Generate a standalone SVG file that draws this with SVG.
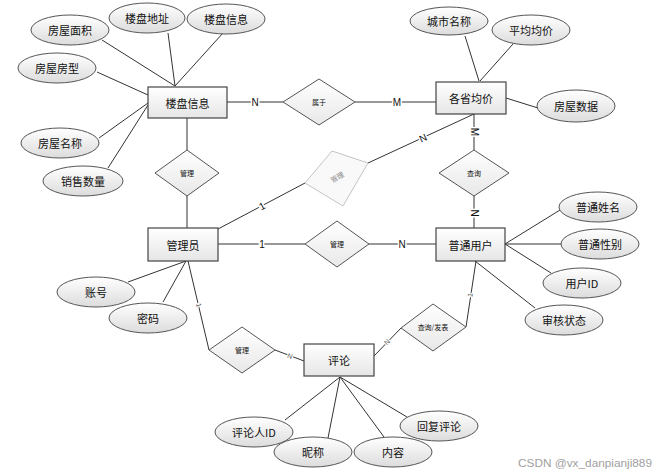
<svg xmlns="http://www.w3.org/2000/svg" width="663" height="476" viewBox="0 0 663 476">
<defs>
<linearGradient id="gR" x1="0" y1="0" x2="0" y2="1"><stop offset="0" stop-color="#ffffff"/><stop offset="1" stop-color="#e6e6e6"/></linearGradient>
<linearGradient id="gE" x1="0" y1="0" x2="0" y2="1"><stop offset="0" stop-color="#ffffff"/><stop offset="1" stop-color="#dcdcdc"/></linearGradient>
<linearGradient id="gD" x1="0" y1="0" x2="0" y2="1"><stop offset="0" stop-color="#ffffff"/><stop offset="1" stop-color="#e8e8e8"/></linearGradient>
</defs>
<style>
.ent{fill:url(#gR);stroke:#444;stroke-width:1.2}
.att{fill:url(#gE);stroke:#555;stroke-width:1}
.rel{fill:url(#gD);stroke:#555;stroke-width:1}
.fad{fill:#f9f9f9;stroke:#c4c4c4;stroke-width:1}
.t{font-family:"Noto Sans CJK SC","Liberation Sans",sans-serif;font-size:11px;fill:#111;text-anchor:middle;dominant-baseline:central}
.s{font-family:"Noto Sans CJK SC","Liberation Sans",sans-serif;font-size:7px;fill:#111;text-anchor:middle;dominant-baseline:central}
.c{font-family:"Liberation Sans",sans-serif;font-size:10px;fill:#111;text-anchor:middle;dominant-baseline:central;stroke:#fff;stroke-width:3;paint-order:stroke}
.cs{font-family:"Liberation Sans",sans-serif;font-size:7px;fill:#555;text-anchor:middle;dominant-baseline:central;stroke:#fff;stroke-width:2;paint-order:stroke}
.ln{stroke:#333;stroke-width:1;fill:none}
.wm{font-family:"Liberation Sans",sans-serif;font-size:11.5px;fill:#a0a0a0}
</style>
<rect width="663" height="476" fill="#fff"/>
<g id="connectors">
<line class="ln" x1="102" y1="40" x2="175" y2="86"/>
<line class="ln" x1="168" y1="33" x2="175" y2="86"/>
<line class="ln" x1="223" y1="33" x2="175" y2="86"/>
<line class="ln" x1="97" y1="72" x2="148" y2="95"/>
<line class="ln" x1="99" y1="138" x2="148" y2="103"/>
<line class="ln" x1="108" y1="168" x2="148" y2="105"/>
<line class="ln" x1="227" y1="102" x2="283" y2="102"/>
<line class="ln" x1="355" y1="102" x2="436" y2="102"/>
<line class="ln" x1="465" y1="36" x2="479" y2="81"/>
<line class="ln" x1="513" y1="44" x2="480" y2="81"/>
<line class="ln" x1="506" y1="98" x2="538" y2="108"/>
<line class="ln" x1="474" y1="114" x2="368" y2="163"/>
<line class="ln" x1="474" y1="114" x2="474" y2="150"/>
<line class="ln" x1="474" y1="196" x2="474" y2="228"/>
<line class="ln" x1="187" y1="118" x2="187" y2="150"/>
<line class="ln" x1="187" y1="196" x2="187" y2="228"/>
<line class="ln" x1="218" y1="229" x2="305" y2="183"/>
<line class="ln" x1="218" y1="244" x2="305" y2="244"/>
<line class="ln" x1="369" y1="244" x2="436" y2="244"/>
<line class="ln" x1="505" y1="244" x2="560" y2="210"/>
<line class="ln" x1="505" y1="244" x2="562" y2="244"/>
<line class="ln" x1="505" y1="244" x2="551" y2="273"/>
<line class="ln" x1="475" y1="261" x2="535" y2="308"/>
<line class="ln" x1="128" y1="282" x2="186" y2="261"/>
<line class="ln" x1="163" y1="302" x2="186" y2="261"/>
<line class="ln" x1="188" y1="261" x2="209" y2="350"/>
<line class="ln" x1="275" y1="350" x2="304" y2="361"/>
<line class="ln" x1="476" y1="261" x2="466" y2="327"/>
<line class="ln" x1="374" y1="356" x2="401" y2="328"/>
<line class="ln" x1="340" y1="377" x2="285" y2="420"/>
<line class="ln" x1="340" y1="377" x2="328" y2="438"/>
<line class="ln" x1="340" y1="377" x2="384" y2="437"/>
<line class="ln" x1="340" y1="377" x2="407" y2="417"/>
<text class="c" x="255" y="102">N</text>
<text class="c" x="397" y="102">M</text>
<text class="c" transform="translate(423,138) rotate(-25)">N</text>
<text class="c" transform="translate(474,132) rotate(90)">M</text>
<text class="c" transform="translate(474,213) rotate(90)">N</text>
<text class="c" transform="translate(262,206) rotate(-28)">1</text>
<text class="c" x="262" y="244">1</text>
<text class="c" x="402" y="244">N</text>
<text class="cs" transform="translate(199,305) rotate(77)">1</text>
<text class="cs" transform="translate(290,356) rotate(20)">N</text>
<text class="cs" transform="translate(387,342) rotate(-45)">N</text>
<text class="cs" transform="translate(470,295) rotate(-81)">1</text>
</g>
<g id="e_loupan"><rect class="ent" x="148" y="87" width="79" height="31"/><text class="t" x="187.5" y="102.5">楼盘信息</text></g>
<g id="e_gesheng"><rect class="ent" x="436" y="82" width="70" height="32"/><text class="t" x="471" y="98">各省均价</text></g>
<g id="e_admin"><rect class="ent" x="148" y="228" width="70" height="33"/><text class="t" x="183" y="244.5">管理员</text></g>
<g id="e_user"><rect class="ent" x="436" y="228" width="69" height="33"/><text class="t" x="470.5" y="244.5">普通用户</text></g>
<g id="e_comment"><rect class="ent" x="304" y="344" width="70" height="32"/><text class="t" x="339" y="360">评论</text></g>
<g id="a_dizhi"><ellipse class="att" cx="147" cy="18" rx="38" ry="15"/><text class="t" x="147" y="18">楼盘地址</text></g>
<g id="a_xinxi"><ellipse class="att" cx="226" cy="19" rx="39" ry="15"/><text class="t" x="226" y="19">楼盘信息</text></g>
<g id="a_mianji"><ellipse class="att" cx="70" cy="30" rx="39" ry="15"/><text class="t" x="70" y="30">房屋面积</text></g>
<g id="a_fangxing"><ellipse class="att" cx="57" cy="68" rx="39" ry="15"/><text class="t" x="57" y="68">房屋房型</text></g>
<g id="a_mingcheng"><ellipse class="att" cx="60" cy="143" rx="39" ry="15"/><text class="t" x="60" y="143">房屋名称</text></g>
<g id="a_xiaoshou"><ellipse class="att" cx="83" cy="181" rx="40" ry="15"/><text class="t" x="83" y="181">销售数量</text></g>
<g id="a_chengshi"><ellipse class="att" cx="449" cy="21" rx="39" ry="14"/><text class="t" x="449" y="21">城市名称</text></g>
<g id="a_junjia"><ellipse class="att" cx="531" cy="30" rx="39" ry="15"/><text class="t" x="531" y="30">平均均价</text></g>
<g id="a_shuju"><ellipse class="att" cx="576" cy="106" rx="39" ry="16"/><text class="t" x="576" y="106">房屋数据</text></g>
<g id="a_xingming"><ellipse class="att" cx="598" cy="207" rx="39" ry="15"/><text class="t" x="598" y="207">普通姓名</text></g>
<g id="a_xingbie"><ellipse class="att" cx="600" cy="244" rx="39" ry="15"/><text class="t" x="600" y="244">普通性别</text></g>
<g id="a_yonghuid"><ellipse class="att" cx="582" cy="283" rx="39" ry="15"/><text class="t" x="582" y="283">用户ID</text></g>
<g id="a_shenhe"><ellipse class="att" cx="564" cy="320" rx="39" ry="15"/><text class="t" x="564" y="320">审核状态</text></g>
<g id="a_zhanghao"><ellipse class="att" cx="96" cy="292" rx="39" ry="15"/><text class="t" x="96" y="292">账号</text></g>
<g id="a_mima"><ellipse class="att" cx="148" cy="318" rx="39" ry="15"/><text class="t" x="148" y="318">密码</text></g>
<g id="a_plrid"><ellipse class="att" cx="254" cy="432" rx="39" ry="15"/><text class="t" x="254" y="432">评论人ID</text></g>
<g id="a_nicheng"><ellipse class="att" cx="313" cy="452" rx="39" ry="15"/><text class="t" x="313" y="452">昵称</text></g>
<g id="a_neirong"><ellipse class="att" cx="393" cy="452" rx="39" ry="15"/><text class="t" x="393" y="452">内容</text></g>
<g id="a_huifu"><ellipse class="att" cx="439" cy="426" rx="39" ry="15"/><text class="t" x="439" y="426">回复评论</text></g>
<g id="r_shuyu"><polygon class="rel" points="319,79 355,102 319,125 283,102"/><text class="s" x="319" y="102">属于</text></g>
<g id="r_guanli1"><polygon class="rel" points="187,150 219,173 187,196 155,173"/><text class="s" x="187" y="173">管理</text></g>
<g id="r_guanli_fade"><polygon class="fad" points="332,151 368,163 343,206 305,183"/><text class="s" style="fill:#888" transform="translate(337,177) rotate(-30)">管理</text></g>
<g id="r_chaxun"><polygon class="rel" points="474,150 509,173 474,196 439,173"/><text class="s" x="474" y="173">查询</text></g>
<g id="r_guanli2"><polygon class="rel" points="337,221 369,244 337,267 305,244"/><text class="s" x="337" y="244">管理</text></g>
<g id="r_guanli3"><polygon class="rel" points="242,327 275,350 242,373 209,350"/><text class="s" x="242" y="350">管理</text></g>
<g id="r_fabiao"><polygon class="rel" points="433,304 466,327 433,351 401,328"/><text class="s" x="433" y="327">查询/发表</text></g>
<text class="wm" x="518" y="467" textLength="134" lengthAdjust="spacingAndGlyphs">CSDN @vx_danpianji889</text>
</svg>
